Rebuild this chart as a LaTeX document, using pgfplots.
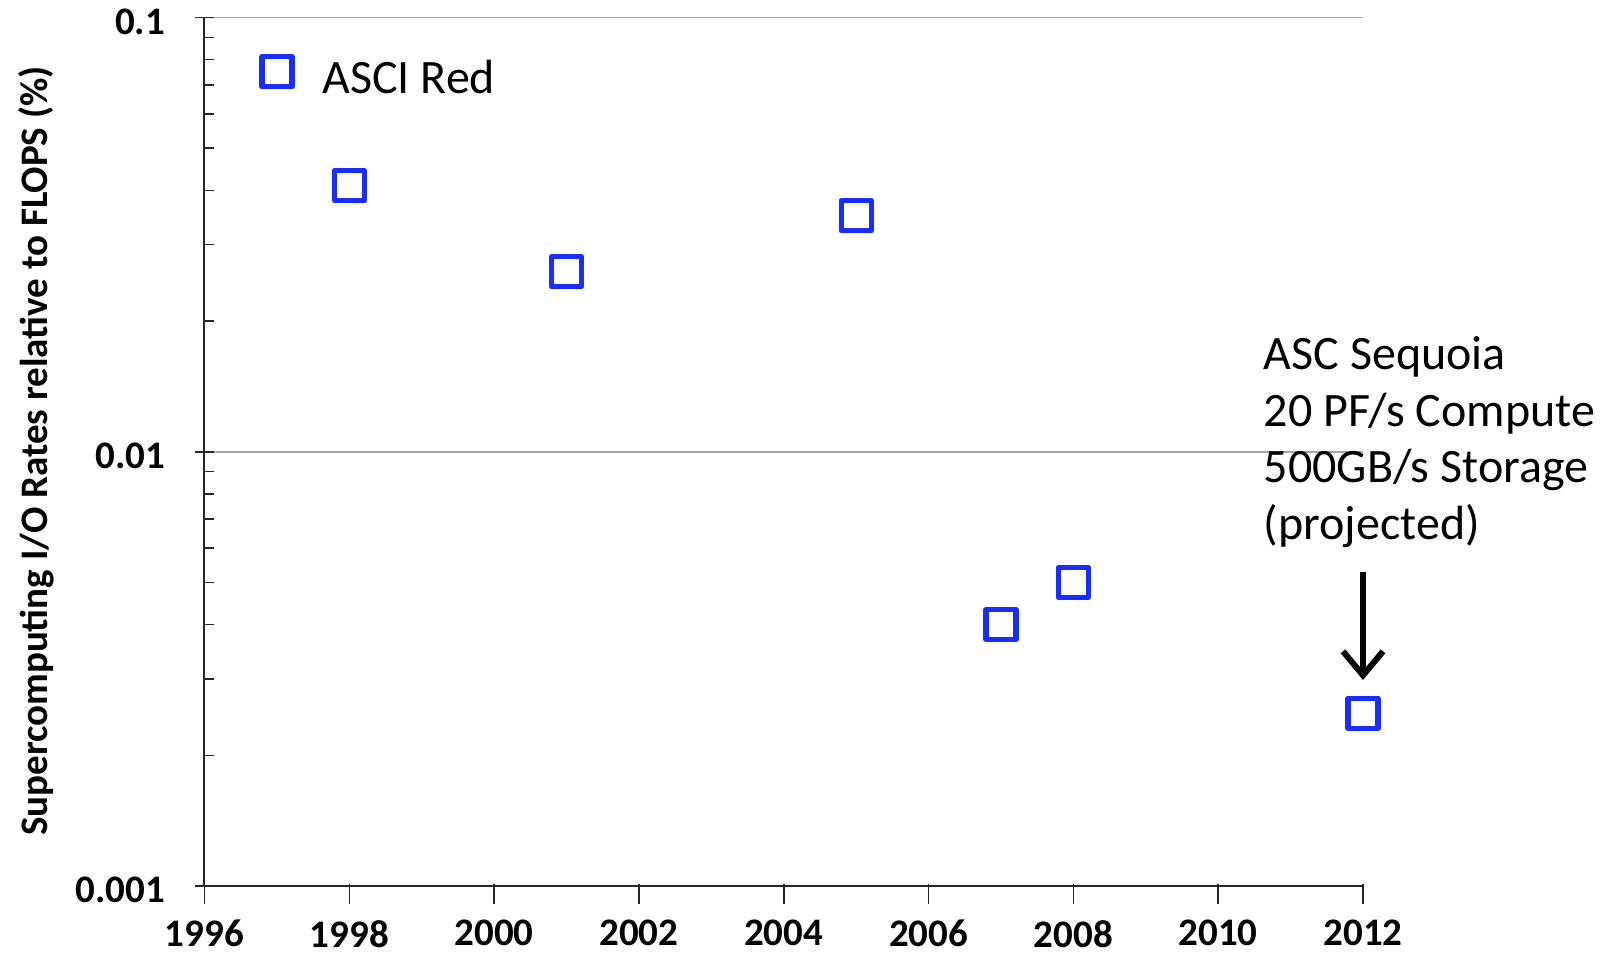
\documentclass[border=0pt]{standalone}
\usepackage{pgfplots}
\pgfplotsset{compat=1.18}
\usepackage{fontspec}
\setmainfont{Carlito}
\usetikzlibrary{arrows.meta}
\definecolor{mblue}{RGB}{25,45,255}
\definecolor{gridgray}{RGB}{165,165,165}
\begin{document}
\begin{tikzpicture}
\begin{axis}[
  scale only axis, width=579.25bp, height=434.25bp,
  ymode=log, xmin=1996, xmax=2012, ymin=0.001, ymax=0.1,
  axis x line*=bottom, axis y line*=left,
  axis line style={draw=black!85, line width=1bp},
  xtick={1996,1998,2000,2002,2004,2006,2008,2010,2012},
  xticklabels={1996,1998,2000,2002,2004,2006,2008,2010,2012},
  ytick={0.001,0.01,0.1}, yticklabels={0.001,0.01,0.1},
  minor ytick={0.002,0.003,0.004,0.005,0.006,0.007,0.008,0.009,0.02,0.03,0.04,0.05,0.06,0.07,0.08,0.09},
  ymajorgrids, major grid style={draw=gridgray, line width=0.8bp},
  tick align=center, major tick length=10bp, minor tick length=5bp,
  tick style={draw=black!85, line width=0.8bp},
  major x tick style={yshift=-4bp},
  minor y tick style={xshift=2.5bp},
  ticklabel style={font=\bfseries\fontsize{19.5bp}{23bp}\selectfont, inner sep=0pt},
  xticklabel style={anchor=north, yshift=-12bp},
  yticklabel style={anchor=east, xshift=-14.5bp, yshift=-2bp},
  clip=false,
]
\addplot[only marks, mark=square, mark size=7.5bp,
  mark options={draw=mblue, line width=2.6bp, fill=white, line join=round}]
  coordinates {(1997,0.075) (1998,0.041) (2001,0.026) (2005,0.035) (2007,0.0040) (2008,0.0050) (2012,0.0025)};
\coordinate (O) at (rel axis cs:0,0);
\end{axis}
\node[rotate=90, anchor=north, inner sep=0pt, font=\bfseries\fontsize{19.5bp}{23bp}\selectfont]
  at ([shift={(-93bp,217.5bp)}]O) {Supercomputing I/O Rates relative to FLOPS (\%)};
\node[anchor=base west, inner sep=0pt, font=\fontsize{24bp}{28bp}\selectfont]
  at ([shift={(58.75bp,396bp)}]O) {ASCI Red};
\begin{scope}[every node/.style={anchor=base west, inner sep=0pt, font=\fontsize{24bp}{28bp}\selectfont}]
\node at ([shift={(529.5bp,258bp)}]O) {ASC Sequoia};
\node at ([shift={(529.5bp,229.5bp)}]O) {20 PF/s Compute};
\node at ([shift={(529.5bp,201.5bp)}]O) {500GB/s Storage};
\node at ([shift={(529.5bp,173bp)}]O) {(projected)};
\end{scope}
\draw[line width=3bp, -{Straight Barb[length=12bp, width=20bp]}]
  ([shift={(579.25bp,157bp)}]O) -- ([shift={(579.25bp,103bp)}]O);
\pgfresetboundingbox
\path[use as bounding box] ([shift={(-102.25bp,-34bp)}]O) rectangle ([shift={(703.75bp,443bp)}]O);
\end{tikzpicture}
\end{document}
